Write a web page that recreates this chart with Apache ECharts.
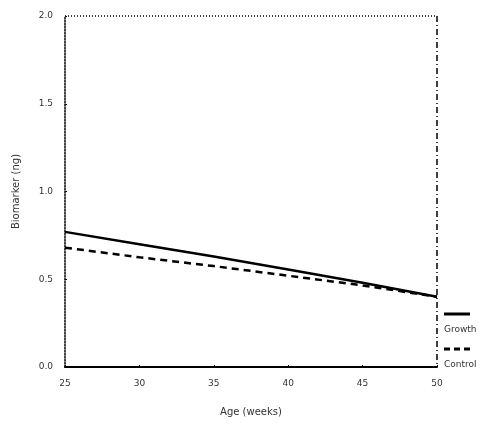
<!DOCTYPE html>
<html>
<head>
<meta charset="utf-8">
<script src="https://cdn.jsdelivr.net/npm/echarts@6/dist/echarts.min.js"></script>
<style>
  html, body { margin: 0; padding: 0; background: #fff; }
  #chart { width: 502px; height: 437px; }
</style>
</head>
<body>
<div id="chart"></div>
<script>
// Age in weeks and the fitted biomarker level for each group
const ages = [25, 30, 35, 40, 45, 50];
const growth = [0.77, 0.70, 0.63, 0.555, 0.48, 0.40];
const control = [0.68, 0.625, 0.575, 0.52, 0.465, 0.40];
const seriesNames = ['Growth', 'Control'];

const pair = (xs, ys) => xs.map((x, i) => [x, ys[i]]);
const txt = { fontFamily: 'DejaVu Sans', fontSize: 9, color: '#333' };

const chart = echarts.init(document.getElementById('chart'));
chart.setOption({
  animation: false,
  grid: { left: 65, right: 65, top: 16, bottom: 70 },
  xAxis: {
    type: 'value', min: 25, max: 50, interval: 5,
    name: 'Age (weeks)', nameLocation: 'middle', nameGap: 40,
    nameTextStyle: { fontFamily: 'DejaVu Sans', fontSize: 10, color: '#333' },
    axisLine: { lineStyle: { color: '#000', width: 2 } },
    axisTick: { show: true, length: 2, inside: true, lineStyle: { color: '#000' } },
    axisLabel: Object.assign({ margin: 12 }, txt),
    splitLine: { show: false }
  },
  yAxis: {
    type: 'value', min: 0, max: 2, interval: 0.5,
    name: 'Biomarker (ng)', nameLocation: 'middle', nameGap: 44,
    nameTextStyle: { fontFamily: 'DejaVu Sans', fontSize: 10, color: '#333' },
    axisLine: { lineStyle: { color: '#000', width: 1.5, type: 'dotted' } },
    axisTick: { show: true, length: 2, inside: true, lineStyle: { color: '#000' } },
    axisLabel: Object.assign({ margin: 12, formatter: v => v.toFixed(1) }, txt),
    splitLine: { show: false }
  },
  graphic: [
    // top and right frame edges
    { type: 'line', shape: { x1: 65, y1: 16, x2: 437, y2: 16 },
      style: { stroke: '#000', lineWidth: 1.5, lineDash: [1, 2] } },
    { type: 'line', shape: { x1: 437, y1: 16, x2: 437, y2: 367 },
      style: { stroke: '#000', lineWidth: 1.5, lineDash: [6, 3, 1, 3] } },
    // group key
    { type: 'line', shape: { x1: 444, y1: 314, x2: 470, y2: 314 },
      style: { stroke: '#000', lineWidth: 3 } },
    { type: 'text', left: 444, top: 325, style: { text: seriesNames[0], fill: '#333', font: '9px DejaVu Sans' } },
    { type: 'line', shape: { x1: 444, y1: 349, x2: 470, y2: 349 },
      style: { stroke: '#000', lineWidth: 3, lineDash: [6, 4] } },
    { type: 'text', left: 444, top: 360, style: { text: seriesNames[1], fill: '#333', font: '9px DejaVu Sans' } }
  ],
  series: [
    {
      name: seriesNames[0], type: 'line', data: pair(ages, growth),
      symbol: 'none', lineStyle: { color: '#000', width: 2.5 }
    },
    {
      name: seriesNames[1], type: 'line', data: pair(ages, control),
      symbol: 'none', lineStyle: { color: '#000', width: 2.5, type: [7, 5] }
    }
  ]
});
</script>
</body>
</html>
